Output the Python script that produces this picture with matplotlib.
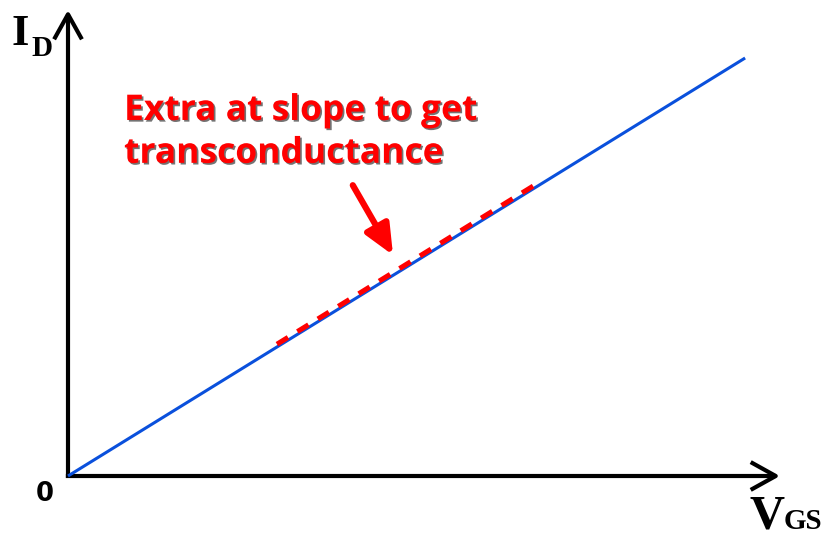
import matplotlib
matplotlib.use("Agg")
import matplotlib.pyplot as plt
import matplotlib.patheffects as pe

# Data (normalised axis units)
vgs = [0.0, 0.951]
id_ = [0.0, 0.897]
tangent_vgs = [0.2935, 0.659]
tangent_offset = 0.006
slope = id_[1] / vgs[1]
tangent_id = [v * slope + tangent_offset for v in tangent_vgs]

annotation_lines = ["Extra at slope to get", "transconductance"]

fig = plt.figure(figsize=(8.27, 5.39), dpi=100)
ax = fig.add_axes([68 / 827, 63 / 539, 712 / 827, 466 / 539])
ax.set_xlim(0, 1)
ax.set_ylim(0, 1)
ax.axis("off")

# axes arrows
arr = dict(arrowstyle="->,head_length=1.8,head_width=1.0", lw=3, color="black",
           shrinkA=0, shrinkB=0, capstyle="butt")
ax.annotate("", xy=(0, 1.0), xytext=(0, -0.004), arrowprops=arr, annotation_clip=False)
ax.annotate("", xy=(1.0, 0), xytext=(-0.003, 0), arrowprops=arr, annotation_clip=False)

# main line
ax.plot(vgs, id_, color="#0a50dc", lw=2.2, solid_capstyle="butt", clip_on=False, zorder=3)

# dashed tangent
ax.plot(tangent_vgs, tangent_id, color="#ff0000", lw=3.6, dashes=(2.6, 2.2),
        clip_on=False, zorder=4)

# red arrow
ax.annotate("", xy=(0.4565, 0.474), xytext=(0.400, 0.624),
            arrowprops=dict(arrowstyle="-|>,head_length=0.9,head_width=0.4", lw=4.5,
                            color="#ff0000", shrinkA=0, shrinkB=0, mutation_scale=20),
            annotation_clip=False)

shadow = [pe.SimplePatchShadow(offset=(1.2, -1.2), shadow_rgbFace="black", alpha=0.55), pe.Normal()]
for line, y in zip(annotation_lines, [0.764, 0.672]):
    ax.text(0.0787, y, line, color="#ff0000", fontsize=25.5,
            fontfamily="Open Sans", fontweight="bold", va="baseline", ha="left",
            path_effects=shadow)

serif = dict(fontfamily="Liberation Serif", fontweight="bold", color="black", va="baseline", ha="left")
ax.text(-0.079, 0.925, "I", fontsize=32, clip_on=False, **serif)
ax.text(-0.051, 0.901, "D", fontsize=21, clip_on=False, **serif)
ax.text(0.957, -0.113, "V", fontsize=35, clip_on=False, **serif)
ax.text(1.005, -0.113, "GS", fontsize=21, clip_on=False, **serif)

ax.text(-0.0323, -0.054, "0", fontsize=18.5, fontfamily="DejaVu Sans", fontweight="bold",
        ha="center", va="baseline", color="black")

fig.savefig("out.png", dpi=100)
